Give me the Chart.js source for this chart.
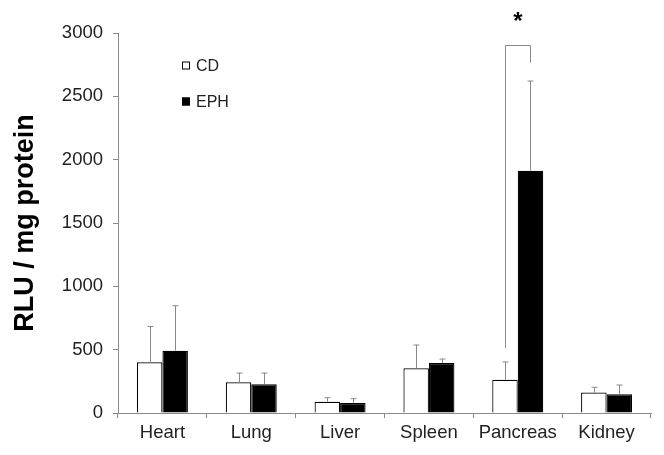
<!DOCTYPE html>
<html>
<head>
<meta charset="utf-8">
<script src="https://cdn.jsdelivr.net/npm/chart.js@4/dist/chart.umd.min.js"></script>
<style>
  html, body { margin: 0; padding: 0; background: #fff; }
  #wrap { width: 664px; height: 455px; }
</style>
</head>
<body>
<div id="wrap"><canvas id="chart" width="664" height="455"></canvas></div>
<script>
const organs = ['Heart', 'Lung', 'Liver', 'Spleen', 'Pancreas', 'Kidney'];
const cdMeans = [400, 242, 89, 353, 263, 161];
const cdErrors = [283, 74, 32, 184, 140, 42];
const ephMeans = [492, 226, 79, 395, 1913, 148];
const ephErrors = [355, 90, 34, 31, 708, 73];
const yTicks = [0, 500, 1000, 1500, 2000, 2500, 3000];

// significance bracket over Pancreas (values in RLU)
const sigIndex = 4;
const sigLeftFrom = 515;
const sigRightFrom = 2766;
const sigTop = 2905;

const axisGray = '#8a8a8a';
const textColor = '#222';

// draws the one-sided error bars from each bar top
const errorBars = {
    id: 'errorBars',
    afterDatasetsDraw(chart) {
        const ctx = chart.ctx;
        const y = chart.scales.y;
        const errs = [cdErrors, ephErrors];
        ctx.save();
        ctx.strokeStyle = axisGray;
        ctx.lineWidth = 1;
        chart.data.datasets.forEach((ds, di) => {
            const meta = chart.getDatasetMeta(di);
            meta.data.forEach((bar, i) => {
                const x = Math.round(bar.x) + 0.5;
                const top = y.getPixelForValue(ds.data[i] + errs[di][i]);
                ctx.beginPath();
                ctx.moveTo(x, bar.y);
                ctx.lineTo(x, top);
                ctx.moveTo(x - 3, top);
                ctx.lineTo(x + 3, top);
                ctx.stroke();
            });
        });
        ctx.restore();
    }
};

const sigBracket = {
    id: 'sigBracket',
    afterDatasetsDraw(chart) {
        const ctx = chart.ctx;
        const y = chart.scales.y;
        const left = Math.round(chart.getDatasetMeta(0).data[sigIndex].x) + 0.5;
        const right = Math.round(chart.getDatasetMeta(1).data[sigIndex].x) + 0.5;
        const top = Math.round(y.getPixelForValue(sigTop)) + 0.5;
        ctx.save();
        ctx.strokeStyle = axisGray;
        ctx.lineWidth = 1;
        ctx.beginPath();
        ctx.moveTo(left, y.getPixelForValue(sigLeftFrom));
        ctx.lineTo(left, top);
        ctx.lineTo(right, top);
        ctx.lineTo(right, y.getPixelForValue(sigRightFrom));
        ctx.stroke();
        ctx.fillStyle = '#000';
        ctx.font = 'bold 24px "Liberation Sans", Arial, sans-serif';
        ctx.textAlign = 'center';
        ctx.textBaseline = 'middle';
        ctx.fillText('*', (left + right) / 2, top - 23);
        ctx.restore();
    }
};

// small legend in the upper left of the plot
const boxLegend = {
    id: 'boxLegend',
    afterDraw(chart) {
        const ctx = chart.ctx;
        const items = chart.data.datasets;
        ctx.save();
        ctx.font = '16px "Liberation Sans", Arial, sans-serif';
        ctx.textBaseline = 'middle';
        items.forEach((ds, i) => {
            const cy = 65.5 + i * 36;
            ctx.fillStyle = ds.backgroundColor;
            ctx.fillRect(182, cy - 4, 8, 8);
            ctx.strokeStyle = '#000';
            ctx.lineWidth = 1;
            ctx.strokeRect(182.5, cy - 3.5, 7, 7);
            ctx.fillStyle = textColor;
            ctx.fillText(ds.label, 196, cy + 1);
        });
        ctx.restore();
    }
};

new Chart(document.getElementById('chart'), {
    type: 'bar',
    data: {
        labels: organs,
        datasets: [
            {
                label: 'CD',
                data: cdMeans,
                backgroundColor: '#ffffff',
                borderColor: '#000000',
                borderWidth: 1.2
            },
            {
                label: 'EPH',
                data: ephMeans,
                backgroundColor: '#000000',
                borderColor: '#000000',
                borderWidth: 1.2
            }
        ]
    },
    options: {
        responsive: false,
        animation: false,
        layout: { padding: { top: 33, right: 13, left: 0, bottom: 0 } },
        categoryPercentage: 0.574,
        barPercentage: 1,
        scales: {
            x: {
                grid: {
                    offset: true,
                    drawOnChartArea: false,
                    color: axisGray,
                    tickLength: 5
                },
                border: { color: axisGray, width: 1 },
                ticks: {
                    color: textColor,
                    padding: 4,
                    font: { family: '"Liberation Sans", Arial, sans-serif', size: 18.5 }
                },
                afterFit(scale) { scale.height = 42; }
            },
            y: {
                min: 0,
                max: 3000,
                afterBuildTicks(scale) { scale.ticks = yTicks.map(v => ({ value: v })); },
                grid: {
                    drawOnChartArea: false,
                    color: axisGray,
                    tickLength: 5
                },
                border: { color: axisGray, width: 1 },
                ticks: {
                    color: textColor,
                    padding: 10,
                    callback: value => String(value),
                    font: { family: '"Liberation Sans", Arial, sans-serif', size: 18.5 }
                },
                title: {
                    display: true,
                    text: 'RLU / mg protein',
                    color: '#000',
                    padding: { top: 9, bottom: 0 },
                    font: { family: '"Liberation Sans", Arial, sans-serif', size: 27, weight: 'bold' }
                },
                afterFit(scale) { scale.width = 118; }
            }
        },
        plugins: {
            legend: { display: false },
            tooltip: { enabled: false }
        }
    },
    plugins: [errorBars, sigBracket, boxLegend]
});
</script>
</body>
</html>
